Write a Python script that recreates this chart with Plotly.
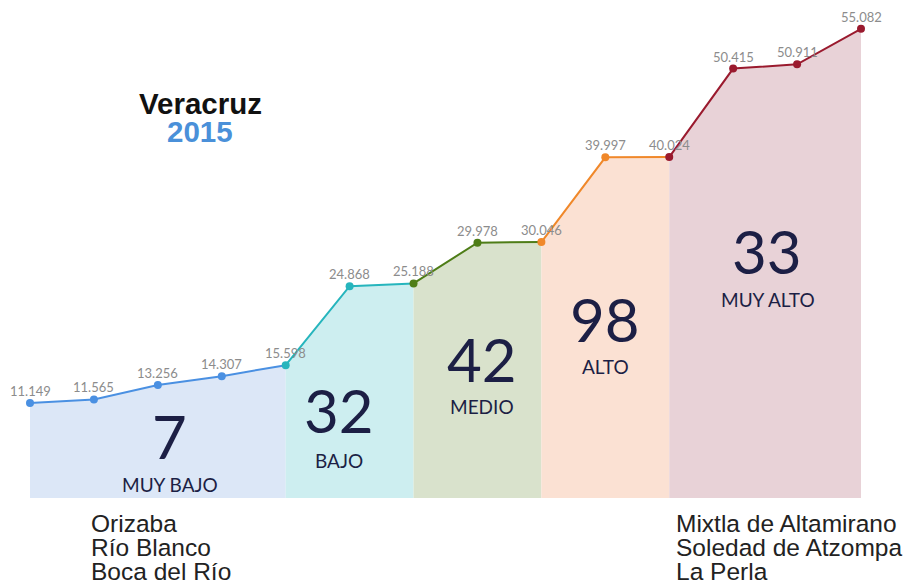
import plotly.graph_objects as go

values = [11.149, 11.565, 13.256, 14.307, 15.598, 24.868, 25.188, 29.978,
          30.046, 39.997, 40.024, 50.415, 50.911, 55.082]
# segment boundaries (indices into values)
seg_start = [0, 4, 6, 8, 10]
seg_end = [4, 6, 8, 10, 13]
seg_names = ["MUY BAJO", "BAJO", "MEDIO", "ALTO", "MUY ALTO"]
seg_counts = ["7", "32", "42", "98", "33"]
line_colors = ["#4a90e2", "#26b5bd", "#4e7d17", "#f0882a", "#9a1a2e"]
fill_colors = ["#dce7f7", "#cdeef0", "#d9e2cc", "#fbe1d3", "#e8d2d7"]
low_names = ["Orizaba", "Río Blanco", "Boca del Río"]
high_names = ["Mixtla de Altamirano", "Soledad de Atzompa", "La Perla"]
state = "Veracruz"
year = "2015"

W, H = 911, 583
ML, MR, MT, MB = 30, 50, 21, 85
PW, PH = W - ML - MR, H - MT - MB


def px_x(px):
    return (px - ML) / PW


def px_y(py):
    return (H - MB - py) / PH


fig = go.Figure()
x_all = list(range(len(values)))

for i in range(len(seg_names)):
    s, e = seg_start[i], seg_end[i]
    xs = x_all[s:e + 1]
    ys = values[s:e + 1]
    fig.add_trace(go.Scatter(
        x=xs, y=ys, mode="lines", fill="tozeroy",
        fillcolor=fill_colors[i],
        line=dict(color=line_colors[i], width=2),
        hoverinfo="skip", showlegend=False))

# markers (boundary points take the following segment colour)
mcolors = []
for j in range(len(values)):
    seg = 0
    for i in range(len(seg_names)):
        if j >= seg_start[i]:
            seg = i
    mcolors.append(line_colors[seg])

fig.add_trace(go.Scatter(
    x=x_all, y=values, mode="markers",
    marker=dict(color=mcolors, size=8),
    cliponaxis=False, showlegend=False))

# value labels just above each point
for xv, v in zip(x_all, values):
    fig.add_annotation(x=xv, y=v, text=f"{v:.3f}", showarrow=False,
                       xanchor="center", yanchor="middle", yshift=12,
                       font=dict(family="Lato", size=13, color="#8c8c8c"))

# count + level labels
num_pos = [(2.19, 7.28), (4.83, 10.34), (7.07, 16.33), (9.0, 21.03), (11.53, 29.0)]
lab_pos = [(2.19, 1.53), (4.83, 4.46), (7.07, 10.69), (9.0, 15.39), (11.55, 23.26)]
for i in range(len(seg_names)):
    fig.add_annotation(x=num_pos[i][0], y=num_pos[i][1], text=seg_counts[i],
                       showarrow=False, xanchor="center", yanchor="middle",
                       font=dict(family="Lato", size=60, color="#1c1f45"))
    fig.add_annotation(x=lab_pos[i][0], y=lab_pos[i][1], text=seg_names[i],
                       showarrow=False, xanchor="center", yanchor="middle",
                       font=dict(family="Lato", size=19, color="#1c1f45"))

fig.add_annotation(x=px_x(200), y=px_y(103), xref="paper", yref="paper",
                   text=f"<b>{state}</b>", showarrow=False, xanchor="center", yanchor="middle",
                   font=dict(family="Liberation Sans", size=29.5, color="#111111"))
fig.add_annotation(x=px_x(200), y=px_y(132), xref="paper", yref="paper",
                   text=f"<b>{year}</b>", showarrow=False, xanchor="center", yanchor="middle",
                   font=dict(family="Liberation Sans", size=29.5, color="#4a90d9"))

line_y = [523, 547, 571]
for names, left in ((low_names, 92), (high_names, 677)):
    for k, name in enumerate(names):
        fig.add_annotation(x=px_x(left), y=px_y(line_y[k]), xref="paper", yref="paper",
                           text=name, showarrow=False, xanchor="left", yanchor="middle",
                           align="left", xshift=-3,
                           font=dict(family="Liberation Sans", size=24.5, color="#222222"))

fig.update_layout(
    width=W, height=H,
    margin=dict(l=ML, r=MR, t=MT, b=MB),
    paper_bgcolor="white", plot_bgcolor="white",
    xaxis=dict(range=[0, 13], visible=False, fixedrange=True),
    yaxis=dict(range=[0, 56], visible=False, fixedrange=True),
)

fig.write_html("out.html", config={"displayModeBar": False},
               post_script="document.body.style.margin='0';")
